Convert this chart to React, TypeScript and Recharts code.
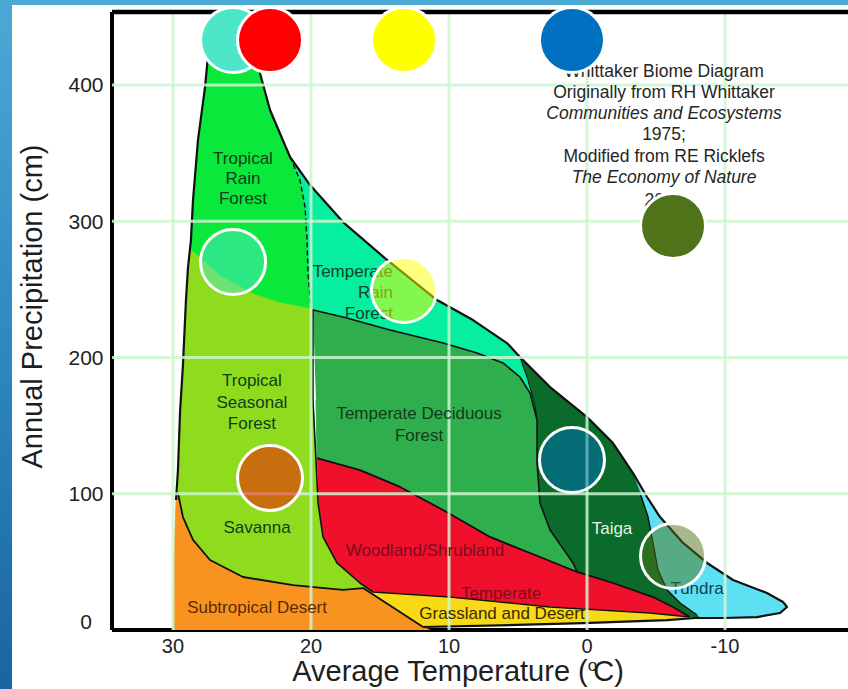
import React from 'react';
import { ScatterChart, Scatter, XAxis, YAxis } from 'recharts';

// ---- axes ----
const X_MIN = -18.91;
const X_MAX = 34.42;
const Y_MAX = 453.6;
const xTicks = [30, 20, 10, 0, -10];
const yTicks = [0, 100, 200, 300, 400];

// ---- biome regions: [temperature °C, precipitation cm] ----
const tundraArea = [
  [-3.55, 110.1], [-4.35, 97.6], [-5.29, 82.9], [-6.96, 63.9], [-8.7, 49.2], [-10.58, 36.7],
  [-13.04, 27.2], [-14.2, 20.6], [-14.49, 16.9], [-13.99, 12.5], [-12.32, 9.5], [-9.86, 8.8],
  [-8.19, 8.1], [-7.97, 11.0], [-6.74, 19.8], [-5.8, 29.4], [-5.14, 44.0], [-4.78, 63.9],
  [-4.42, 82.9], [-3.84, 100.6],
];
const temperateRainForestArea = [
  [21.52, 347.2], [20.07, 326.6], [17.68, 299.4], [14.49, 271.6], [10.87, 242.2], [8.26, 227.5],
  [5.8, 210.6], [4.86, 200.4], [4.28, 183.5], [3.77, 165.1], [3.62, 154.1], [4.13, 173.9],
  [4.86, 185.7], [6.09, 196.0], [7.97, 203.3], [10.43, 210.6], [14.28, 220.2], [17.68, 229.7],
  [19.86, 234.9], [20.0, 236.3], [20.22, 262.0], [20.29, 286.2], [20.43, 310.5], [20.8, 330.3],
];
const taigaArea = [
  [4.86, 200.4], [2.68, 178.3], [0, 156.3], [-1.88, 137.2], [-3.33, 115.2], [-3.84, 100.6],
  [-4.42, 82.9], [-4.78, 63.9], [-5.14, 44.0], [-5.8, 29.4], [-6.74, 19.8], [-7.97, 11.0],
  [-8.19, 8.8], [-7.46, 9.5], [-6.23, 16.9], [-4.78, 24.2], [-1.88, 34.5], [0.72, 42.6],
  [1.01, 49.2], [2.68, 73.4], [3.41, 93.2], [3.62, 122.6], [3.62, 154.1], [3.77, 165.1], [4.28, 183.5],
];
const deciduousArea = [
  [19.86, 234.9], [17.68, 229.7], [14.28, 220.2], [10.43, 210.6], [7.97, 203.3], [6.09, 196.0],
  [4.86, 185.7], [4.13, 173.9], [3.62, 154.1], [3.62, 122.6], [3.41, 93.2], [2.68, 73.4],
  [1.01, 49.2], [0.72, 42.6], [3.41, 53.6], [7.03, 68.3], [10.43, 88.1], [13.55, 105.0],
  [16.45, 117.4], [19.57, 126.2], [19.64, 168.8],
];
const woodlandArea = [
  [19.57, 126.2], [16.45, 117.4], [13.55, 105.0], [10.43, 88.1], [7.03, 68.3], [3.41, 53.6],
  [0.72, 42.6], [-1.88, 34.5], [-4.78, 24.2], [-6.23, 16.9], [-7.46, 9.5], [-4.57, 12.5],
  [2.68, 16.9], [9.93, 24.2], [15.51, 27.9], [16.45, 34.5], [18.12, 49.2], [19.13, 68.3], [19.49, 93.2],
];
const grasslandArea = [
  [16.23, 30.8], [15.51, 27.9], [9.93, 24.2], [2.68, 16.9], [-4.57, 12.5], [-7.46, 9.5],
  [-7.83, 8.8], [-5.8, 7.3], [0.29, 5.1], [5.07, 3.7], [11.88, 2.2],
];
const savannaArea = [
  [29.06, 242.2], [28.91, 266.4], [28.7, 282.6], [24.2, 249.5], [19.93, 238.5], [19.86, 168.8],
  [19.64, 124.8], [19.49, 93.2], [19.13, 68.3], [18.12, 49.2], [16.45, 34.5], [15.51, 27.9],
  [16.23, 30.8], [17.68, 29.4], [21.3, 33.0], [24.93, 38.9], [27.32, 51.4], [28.55, 66.1],
  [29.28, 82.9], [29.64, 100.6], [29.64, 117.4], [29.49, 160.0], [29.28, 194.5],
];
const rainForestArea = [
  [27.46, 424.2], [23.84, 424.2], [23.7, 408.8], [22.97, 381.7], [21.52, 347.2], [20.8, 330.3],
  [20.43, 310.5], [20.29, 286.2], [20.22, 262.0], [20.0, 236.3], [22.25, 240.7], [24.2, 247.3],
  [26.59, 260.6], [28.62, 278.9], [28.7, 286.2], [28.55, 315.6], [28.19, 359.6], [27.68, 398.5],
];
const desertArea = [
  [30.0, 0], [30.0, 22.0], [29.93, 51.4], [29.78, 95.4], [29.64, 100.6], [29.28, 82.9],
  [28.55, 66.1], [27.32, 51.4], [24.93, 38.9], [21.3, 33.0], [17.68, 29.4], [16.23, 30.8],
  [14.06, 16.9], [11.88, 2.2], [11.38, 0],
];

// ---- boundary lines ----
const outlineEdge = [
  [29.78, 95.4], [29.64, 117.4], [29.49, 160.0], [29.28, 194.5], [29.06, 242.2], [28.91, 266.4],
  [28.7, 286.2], [28.55, 315.6], [28.19, 359.6], [27.68, 398.5], [27.46, 422.0], [23.77, 422.0],
  [23.7, 408.8], [22.97, 381.7], [21.52, 347.2], [20.07, 326.6], [17.68, 299.4], [14.49, 271.6],
  [10.87, 242.2], [8.26, 227.5], [5.8, 210.6], [4.86, 200.4], [2.68, 178.3], [0, 156.3],
  [-1.88, 137.2], [-3.33, 115.2], [-4.35, 97.6], [-5.29, 82.9], [-6.96, 63.9], [-8.7, 49.2],
  [-10.58, 36.7], [-13.04, 27.2], [-14.2, 20.6], [-14.49, 16.9], [-13.99, 12.5], [-12.32, 9.5],
  [-9.86, 8.8], [-7.83, 8.8], [-5.8, 7.3], [0.29, 5.1], [5.07, 3.7], [11.88, 2.2],
];
const rainForestEdge = [
  [21.52, 347.2], [20.8, 330.3], [20.43, 310.5], [20.29, 286.2], [20.22, 262.0], [20.0, 236.3],
];
const deciduousEdge = [
  [0.72, 42.6], [1.01, 49.2], [2.68, 73.4], [3.41, 93.2], [3.62, 122.6], [3.62, 154.1],
  [4.13, 173.9], [4.86, 185.7], [6.09, 196.0], [7.97, 203.3], [10.43, 210.6], [14.28, 220.2],
  [17.68, 229.7], [19.86, 234.9], [19.86, 168.8], [19.64, 124.8], [19.49, 93.2], [19.13, 68.3],
  [18.12, 49.2], [16.45, 34.5], [15.51, 27.9], [9.93, 24.2], [2.68, 16.9], [-4.57, 12.5], [-7.46, 9.5],
];
const woodlandEdge = [
  [19.57, 126.2], [16.45, 117.4], [13.55, 105.0], [10.43, 88.1], [7.03, 68.3], [3.41, 53.6],
  [0.72, 42.6], [-1.88, 34.5], [-4.78, 24.2], [-6.23, 16.9], [-7.46, 9.5],
];
const desertEdge = [
  [29.64, 100.6], [29.28, 82.9], [28.55, 66.1], [27.32, 51.4], [24.93, 38.9], [21.3, 33.0],
  [17.68, 29.4], [16.23, 30.8], [11.88, 2.2],
];
const taigaEdge = [[4.86, 200.4], [4.28, 183.5], [3.77, 165.1], [3.62, 154.1]];
const tundraEdge = [
  [-3.84, 100.6], [-4.42, 82.9], [-4.78, 63.9], [-5.14, 44.0], [-5.8, 29.4], [-6.74, 19.8], [-7.97, 11.0],
];

// ---- labels ----
const greenLabels = [
  { t: 24.93, p: 346.4, text: 'Tropical' }, { t: 24.93, p: 331.7, text: 'Rain' }, { t: 24.93, p: 317.1, text: 'Forest' },
  { t: 24.28, p: 183.5, text: 'Tropical' }, { t: 24.28, p: 167.3, text: 'Seasonal' }, { t: 24.28, p: 151.9, text: 'Forest' },
  { t: 23.91, p: 75.6, text: 'Savanna' },
  { t: 12.17, p: 159.3, text: 'Temperate Deciduous' }, { t: 12.17, p: 143.1, text: 'Forest' },
];
const temperateRainLabels = [
  { t: 14.06, p: 263.5, text: 'Temperate' }, { t: 14.06, p: 248.1, text: 'Rain' }, { t: 14.06, p: 232.7, text: 'Forest' },
];
const redLabels = [
  { t: 11.74, p: 58.7, text: 'Woodland/Shrubland' }, { t: 6.23, p: 27.2, text: 'Temperate' },
];
const grassLabels = [{ t: 6.16, p: 12.5, text: 'Grassland and Desert' }];
const desertLabels = [{ t: 23.91, p: 16.9, text: 'Subtropical Desert' }];
const taigaLabels = [{ t: -1.81, p: 74.9, text: 'Taiga' }];
const tundraLabels = [{ t: -7.97, p: 30.8, text: 'Tundra' }];
const creditLabels = [
  { t: -5.58, p: 410.3, text: 'Whittaker Biome Diagram' },
  { t: -5.58, p: 394.9, text: 'Originally from RH Whittaker' },
  { t: -5.58, p: 364.0, text: '1975;' },
  { t: -5.58, p: 347.8, text: 'Modified from RE Ricklefs' },
  { t: -5.58, p: 315.6, text: '2008' },
];
const creditItalicLabels = [
  { t: -5.58, p: 379.4, text: 'Communities and Ecosystems' },
  { t: -5.58, p: 332.4, text: 'The Economy of Nature' },
];

// ---- circle markers ----
const markerTemps = [25.65, 22.97, 13.26, 1.09, -6.23];
const markerUpperPrecip = [433, 433, 433, 433, 296.5];
const markerLowerPrecip = [270.1, 111.6, 249.5, 124.8, 54.3];
const markerColors = ['#4ee6c8', '#ff0000', '#ffff00', '#0070c0', '#4f7318'];

const FONT = '"Liberation Sans", Arial, Helvetica, sans-serif';
const toPts = (arr: number[][]) => arr.map(([t, p]) => ({ t, p }));
const hidden = () => <g />;

const makeText = (style: any) => (props: any) => (
  <text x={props.cx} y={props.cy} dy="0.35em" fontFamily={FONT} {...style}>
    {props.payload.text}
  </text>
);
const makeCircle = (color: string, opacity: number) => (props: any) => (
  <circle cx={props.cx} cy={props.cy} r={32.5} fill={color} fillOpacity={opacity} stroke="#ffffff" strokeWidth={3} />
);

const fills: [number[][], string][] = [
  [tundraArea, '#5ce0f2'],
  [temperateRainForestArea, '#06eea0'],
  [taigaArea, '#0b6b2a'],
  [deciduousArea, '#2fae4e'],
  [woodlandArea, '#f0102c'],
  [grasslandArea, '#f8d916'],
  [savannaArea, '#8fdc1f'],
  [rainForestArea, '#0ae83c'],
  [desertArea, '#f7931e'],
];
const edges: [number[][], number, string | undefined][] = [
  [outlineEdge, 2.2, undefined],
  [rainForestEdge, 1.4, '5 3'],
  [deciduousEdge, 1.6, undefined],
  [woodlandEdge, 1.8, undefined],
  [desertEdge, 1.8, undefined],
  [taigaEdge, 1.0, undefined],
  [tundraEdge, 1.4, undefined],
];

const gridLines = [
  ...xTicks.map((t) => [{ t, p: 0 }, { t, p: Y_MAX }]),
  ...yTicks.filter((p) => p > 0).map((p) => [{ t: X_MAX, p }, { t: X_MIN, p }]),
];
const topBorder = [{ t: X_MAX, p: Y_MAX }, { t: X_MIN, p: Y_MAX }];

const XTick = (props: any) => (
  <text x={props.x} y={props.y} dy="0.71em" textAnchor="middle" fontSize={20} fill="#222" fontFamily={FONT}>
    {props.payload.value}
  </text>
);
const YTick = (props: any) => (
  <text
    x={props.x - 18}
    y={props.payload.value === 0 ? props.y - 8 : props.y}
    dy="0.355em"
    textAnchor="middle"
    fontSize={21}
    fill="#222"
    fontFamily={FONT}
  >
    {props.payload.value}
  </text>
);

export default function App() {
  return (
    <div
      style={{
        position: 'absolute',
        left: 0,
        top: 0,
        width: 848,
        height: 689,
        overflow: 'hidden',
        background: 'linear-gradient(180deg, #4aaad4 0%, #2f8cc4 45%, #1a64a3 100%)',
      }}
    >
      <div style={{ position: 'absolute', left: 12, top: 5, width: 836, height: 684, background: '#ffffff' }}>
        <ScatterChart width={836} height={684} margin={{ top: 7, right: 0, bottom: 0, left: 0 }}>
          <XAxis
            type="number"
            dataKey="t"
            domain={[X_MIN, X_MAX]}
            reversed
            ticks={xTicks}
            interval={0}
            height={59}
            axisLine={{ stroke: '#000', strokeWidth: 4 }}
            tickLine={false}
            tickSize={0}
            tickMargin={9}
            tick={XTick}
          />
          <YAxis
            type="number"
            dataKey="p"
            domain={[0, Y_MAX]}
            ticks={yTicks}
            interval={0}
            width={100}
            axisLine={{ stroke: '#000', strokeWidth: 4 }}
            tickLine={false}
            tickSize={0}
            tickMargin={8}
            tick={YTick}
          />
          {fills.map(([arr, color], i) => (
            <Scatter
              key={'f' + i}
              data={toPts(arr)}
              fill={color}
              line={{ fill: color, stroke: color, strokeWidth: 0.8 }}
              shape={hidden}
              legendType="none"
              isAnimationActive={false}
            />
          ))}
          {edges.map(([arr, w, dash], i) => (
            <Scatter
              key={'e' + i}
              data={toPts(arr)}
              fill="#111"
              line={{ fill: 'none', stroke: '#111', strokeWidth: w, strokeDasharray: dash, strokeLinejoin: 'round' }}
              shape={hidden}
              legendType="none"
              isAnimationActive={false}
            />
          ))}
          {gridLines.map((seg, i) => (
            <Scatter
              key={'g' + i}
              data={seg}
              fill="#c8f5cc"
              line={{ fill: 'none', stroke: '#cdf6d0', strokeWidth: 3, strokeOpacity: 0.85 }}
              shape={hidden}
              legendType="none"
              isAnimationActive={false}
            />
          ))}
          <Scatter data={greenLabels} fill="#000" shape={makeText({ fontSize: 17, fill: '#123d18', textAnchor: 'middle' })} isAnimationActive={false} />
          <Scatter data={temperateRainLabels} fill="#000" shape={makeText({ fontSize: 17, fill: '#0f4424', textAnchor: 'end' })} isAnimationActive={false} />
          <Scatter data={redLabels} fill="#000" shape={makeText({ fontSize: 17, fill: '#7c0c1c', textAnchor: 'middle' })} isAnimationActive={false} />
          <Scatter data={grassLabels} fill="#000" shape={makeText({ fontSize: 17, fill: '#3a2a04', textAnchor: 'middle' })} isAnimationActive={false} />
          <Scatter data={desertLabels} fill="#000" shape={makeText({ fontSize: 17, fill: '#5c2a06', textAnchor: 'middle' })} isAnimationActive={false} />
          <Scatter data={taigaLabels} fill="#000" shape={makeText({ fontSize: 17, fill: '#e4f2e4', textAnchor: 'middle' })} isAnimationActive={false} />
          <Scatter data={tundraLabels} fill="#000" shape={makeText({ fontSize: 17, fill: '#0d3f52', textAnchor: 'middle' })} isAnimationActive={false} />
          <Scatter data={creditLabels} fill="#000" shape={makeText({ fontSize: 17.5, fill: '#262626', textAnchor: 'middle' })} isAnimationActive={false} />
          <Scatter data={creditItalicLabels} fill="#000" shape={makeText({ fontSize: 17.5, fill: '#262626', textAnchor: 'middle', fontStyle: 'italic' })} isAnimationActive={false} />
          <Scatter
            data={topBorder}
            fill="#000"
            line={{ fill: 'none', stroke: '#000', strokeWidth: 4.5 }}
            shape={hidden}
            legendType="none"
            isAnimationActive={false}
          />
          {markerColors.map((c, i) => (
            <Scatter
              key={'mu' + i}
              data={[{ t: markerTemps[i], p: markerUpperPrecip[i] }]}
              fill={c}
              shape={makeCircle(c, 1)}
              isAnimationActive={false}
            />
          ))}
          {markerColors.map((c, i) => (
            <Scatter
              key={'ml' + i}
              data={[{ t: markerTemps[i], p: markerLowerPrecip[i] }]}
              fill={c}
              shape={makeCircle(c, 0.5)}
              isAnimationActive={false}
            />
          ))}
        </ScatterChart>
        <svg
          width={836}
          height={684}
          style={{ position: 'absolute', left: 0, top: 0, pointerEvents: 'none' }}
        >
          <text
            transform="rotate(-90)"
            x={-301.5}
            y={30}
            textAnchor="middle"
            fontSize={29}
            fill="#1e1e1e"
            fontFamily={FONT}
          >
            Annual Precipitation (cm)
          </text>
          <text x={446} y={676} textAnchor="middle" fontSize={29} fill="#1e1e1e" fontFamily={FONT}>
            Average Temperature (
            <tspan fontSize={17} dy={-10}>o</tspan>
            <tspan dx={-4} dy={10}>C)</tspan>
          </text>
        </svg>
      </div>
    </div>
  );
}
